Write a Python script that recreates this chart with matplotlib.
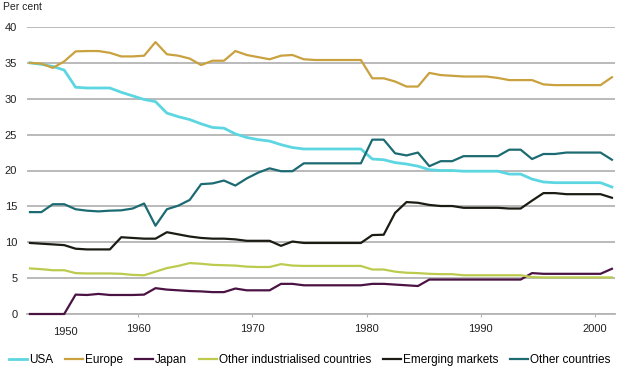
import numpy as np
import matplotlib
matplotlib.use('Agg')
import matplotlib.pyplot as plt

plt.rcParams['font.family'] = ['Liberation Sans', 'DejaVu Sans']

# annual shares, 1950-2001 (per cent)
years = np.arange(1950, 2002)

usa = [35.0, 34.8, 34.5, 34.0, 31.6, 31.5, 31.5, 31.5, 30.9, 30.4,
       29.9, 29.6, 28.0, 27.5, 27.1, 26.5, 26.0, 25.9, 25.1, 24.6,
       24.3, 24.1, 23.6, 23.2, 23.0, 23.0, 23.0, 23.0, 23.0, 23.0,
       21.6, 21.5, 21.1, 20.9, 20.6, 20.1, 20.0, 20.0, 19.9, 19.9,
       19.9, 19.9, 19.5, 19.5, 18.8, 18.4, 18.3, 18.3, 18.3, 18.3,
       18.3, 17.7]
europe = [35.0, 34.9, 34.3, 35.2, 36.6, 36.65, 36.65, 36.4, 35.9, 35.9,
          36.0, 37.9, 36.2, 36.0, 35.6, 34.7, 35.3, 35.3, 36.65, 36.1,
          35.8, 35.5, 36.0, 36.1, 35.5, 35.4, 35.4, 35.4, 35.4, 35.4,
          32.85, 32.85, 32.4, 31.7, 31.7, 33.6, 33.3, 33.2, 33.1, 33.1,
          33.1, 32.9, 32.6, 32.6, 32.6, 32.0, 31.9, 31.9, 31.9, 31.9,
          31.9, 33.0]
japan = [0, 0, 0, 0, 2.7, 2.65, 2.8, 2.65, 2.65, 2.65,
         2.7, 3.6, 3.4, 3.3, 3.2, 3.15, 3.05, 3.05, 3.55, 3.3,
         3.3, 3.3, 4.2, 4.2, 4.0, 4.0, 4.0, 4.0, 4.0, 4.0,
         4.2, 4.2, 4.1, 4.0, 3.9, 4.8, 4.8, 4.8, 4.8, 4.8,
         4.8, 4.8, 4.8, 4.8, 5.7, 5.6, 5.6, 5.6, 5.6, 5.6,
         5.6, 6.3]
other_ind = [6.35, 6.25, 6.1, 6.1, 5.7, 5.65, 5.65, 5.65, 5.6, 5.45,
             5.4, 5.9, 6.4, 6.7, 7.1, 7.0, 6.85, 6.8, 6.75, 6.6,
             6.55, 6.55, 6.95, 6.75, 6.7, 6.7, 6.7, 6.7, 6.7, 6.7,
             6.2, 6.2, 5.9, 5.75, 5.7, 5.6, 5.55, 5.55, 5.4, 5.4,
             5.4, 5.4, 5.4, 5.4, 5.15, 5.1, 5.1, 5.1, 5.1, 5.1,
             5.1, 5.1]
emerging = [9.9, 9.8, 9.7, 9.6, 9.1, 9.0, 9.0, 9.0, 10.7, 10.6,
            10.5, 10.5, 11.4, 11.1, 10.8, 10.6, 10.5, 10.5, 10.4, 10.2,
            10.2, 10.2, 9.5, 10.1, 9.9, 9.9, 9.9, 9.9, 9.9, 9.9,
            11.0, 11.05, 14.1, 15.6, 15.5, 15.2, 15.05, 15.05, 14.8, 14.8,
            14.8, 14.8, 14.7, 14.7, 15.8, 16.85, 16.85, 16.7, 16.7, 16.7,
            16.7, 16.2]
other_countries = [14.2, 14.2, 15.3, 15.3, 14.6, 14.4, 14.3, 14.4, 14.45, 14.7,
                   15.4, 12.3, 14.6, 15.1, 15.9, 18.1, 18.2, 18.6, 17.9, 18.9,
                   19.7, 20.3, 19.9, 19.9, 21.0, 21.0, 21.0, 21.0, 21.0, 21.0,
                   24.3, 24.3, 22.4, 22.1, 22.5, 20.6, 21.3, 21.3, 22.0, 22.0,
                   22.0, 22.0, 22.9, 22.9, 21.6, 22.3, 22.3, 22.5, 22.5, 22.5,
                   22.5, 21.5]

series = [('USA', usa, '#5cd6e0', 2.0),
          ('Europe', europe, '#c9a13e', 1.6),
          ('Japan', japan, '#4b1343', 1.6),
          ('Other industrialised countries', other_ind, '#bccb4e', 1.6),
          ('Emerging markets', emerging, '#1c1c14', 1.6),
          ('Other countries', other_countries, '#1d6b72', 1.6)]

fig = plt.figure(figsize=(6.2, 3.72), dpi=100)
ax = fig.add_axes([27 / 620, 1 - 314 / 372, 588 / 620, 287 / 372])

x = years + 0.5  # values plotted at mid-year
for name, vals, col, lw in series:
    ax.plot(x, vals, color=col, lw=lw, label=name, clip_on=False, zorder=3)

ax.set_xlim(1950.24, 2001.77)
ax.set_ylim(0, 40)
ax.set_yticks(np.arange(0, 41, 5))
ax.yaxis.grid(True, color='#b4b4b4', lw=1.3)
ax.set_axisbelow(True)
for s in ['top', 'right', 'left']:
    ax.spines[s].set_visible(False)
ax.spines['bottom'].set_color('#b4b4b4')
ax.spines['bottom'].set_linewidth(1.3)

ax.set_xticks([1960, 1970, 1980, 1990, 2000])
ax.tick_params(axis='x', length=2, color='#b4b4b4', labelsize=8, pad=5, labelcolor='#222222')
ax.tick_params(axis='y', length=0, labelsize=8, pad=7, labelcolor='#222222')
# the 1950 label sits inside the first decade in the original
ax.text(1953.57, -0.045, '1950', transform=ax.get_xaxis_transform(),
        ha='center', va='top', fontsize=8, color='#222222')

fig.text(3 / 620, 1 - 7 / 372, 'Per cent', ha='left', va='center', fontsize=7.5, color='#222222')

fig.legend(loc='center', bbox_to_anchor=(0.5, 1 - 360 / 372), ncol=6, frameon=False,
           fontsize=8.5, handlelength=1.5, handletextpad=0.2, columnspacing=1.0,
           borderaxespad=0, borderpad=0)

fig.savefig('out.png', dpi=100)
